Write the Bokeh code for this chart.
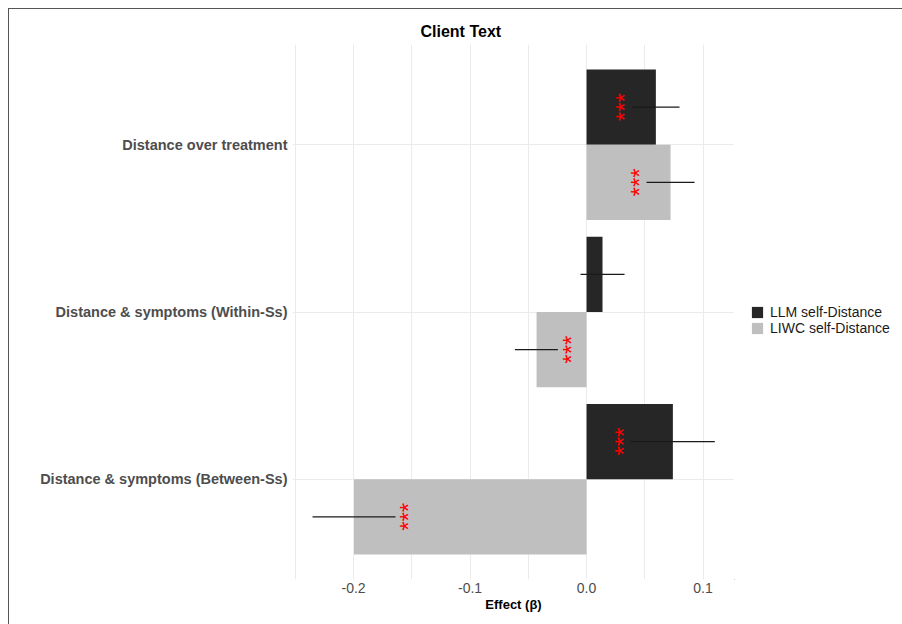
import math
from bokeh.plotting import figure
from bokeh.layouts import row
from bokeh.models import (ColumnDataSource, Range1d, FixedTicker, SingleIntervalTicker,
                          PrintfTickFormatter, Legend, LegendItem)
from bokeh.core.properties import value
from bokeh.embed import file_html
from bokeh.resources import INLINE

# ---------------- data ----------------
categories = ["Distance over treatment",
              "Distance & symptoms (Within-Ss)",
              "Distance & symptoms (Between-Ss)"]
series_names = ["LLM self-Distance", "LIWC self-Distance"]

llm_est = [0.0595, 0.0137, 0.0741]
llm_lo = [0.0392, -0.0052, 0.0378]
llm_hi = [0.0798, 0.0326, 0.1101]
llm_sig = ["***", "", "***"]

liwc_est = [0.0721, -0.0429, -0.1996]
liwc_lo = [0.0515, -0.0615, -0.2352]
liwc_hi = [0.0927, -0.0246, -0.1640]
liwc_sig = ["***", "***", "***"]

x_axis_label = "Effect (\u03b2)"
title_text = "Client Text"

# ---------------- styling ----------------
FONT = "Liberation Sans"
DARK = "#262626"
LIGHT = "#bfbfbf"
GRID = "#ebebeb"
BAR_H = 0.45
STAR_GAP = 0.009
H = 615

n = len(categories)
pos = [n - i for i in range(n)]


def make_source(est, lo, hi, sig, shift):
    ys = [p_ + shift for p_ in pos]
    star_x = []
    for e, l, h in zip(est, lo, hi):
        if e >= 0:
            star_x.append(l - STAR_GAP)
        else:
            star_x.append(h + STAR_GAP)
    return ColumnDataSource(dict(y=ys, est=est, lo=lo, hi=hi, sig=sig, sx=star_x))


src_llm = make_source(llm_est, llm_lo, llm_hi, llm_sig, BAR_H / 2)
src_liwc = make_source(liwc_est, liwc_lo, liwc_hi, liwc_sig, -BAR_H / 2)

p = figure(width=725, height=H, output_backend="svg", toolbar_location=None,
           x_range=Range1d(-0.2524, 0.127), y_range=Range1d(0.4, 3.6),
           min_border_left=283, min_border_right=0, min_border_top=35,
           min_border_bottom=H - 570)
p.outline_line_color = None
p.background_fill_color = "white"
p.border_fill_color = "white"

# title
p.title.text = title_text
p.title.text_font = FONT
p.title.text_font_size = "16px"
p.title.text_font_style = "bold"
p.title.text_color = "black"
p.title.align = "left"
p.title.offset = 128
p.title.standoff = 10

# bars
r_llm = p.hbar(y="y", left=0, right="est", height=BAR_H, source=src_llm,
               fill_color=DARK, line_color=None)
r_liwc = p.hbar(y="y", left=0, right="est", height=BAR_H, source=src_liwc,
                fill_color=LIGHT, line_color=None)

# error bars and significance stars
for src in (src_llm, src_liwc):
    p.segment(x0="lo", x1="hi", y0="y", y1="y", source=src,
              line_color="#1a1a1a", line_width=1.2)
    p.text(x="sx", y="y", text="sig", source=src, angle=math.pi / 2,
           text_color="#ff0000", text_font=value(FONT), text_font_size="24px",
           text_align="center", text_baseline="middle", x_offset=3)

# axes
p.xaxis.ticker = SingleIntervalTicker(interval=0.1, num_minor_ticks=2)
p.xaxis.formatter = PrintfTickFormatter(format="%.1f")
p.yaxis.ticker = FixedTicker(ticks=pos, minor_ticks=[])
p.yaxis.major_label_overrides = {pv: c for pv, c in zip(pos, categories)}

for ax in (p.xaxis, p.yaxis):
    ax.axis_line_color = None
    ax.major_tick_line_color = None
    ax.minor_tick_line_color = None
    ax.major_tick_out = 0
    ax.major_tick_in = 0
    ax.minor_tick_out = 0
    ax.minor_tick_in = 0
    ax.major_label_text_font = FONT
    ax.major_label_text_color = "#4d4d4d"

p.yaxis.major_label_text_font_size = "14.5px"
p.yaxis.major_label_text_font_style = "bold"
p.yaxis.major_label_standoff = 5
p.xaxis.major_label_text_font_size = "14px"
p.xaxis.major_label_standoff = 3
p.xaxis.axis_label = x_axis_label
p.xaxis.axis_label_text_font = FONT
p.xaxis.axis_label_text_font_size = "13px"
p.xaxis.axis_label_text_font_style = "bold"
p.xaxis.axis_label_text_color = "black"
p.xaxis.axis_label_standoff = 1

# grid
p.xgrid.grid_line_color = GRID
p.xgrid.minor_grid_line_color = GRID
p.ygrid.grid_line_color = GRID
p.ygrid.ticker = FixedTicker(ticks=pos, minor_ticks=[])

# legend in a small companion panel to the right (its ranges keep the key
# renderers' own bars out of view, so only the legend is drawn there)
pl = figure(width=168, height=H, output_backend="svg", toolbar_location=None,
            x_range=Range1d(10, 11), y_range=Range1d(10, 11),
            min_border=0)
pl.axis.visible = False
pl.grid.visible = False
pl.outline_line_color = None
k_llm = pl.hbar(y="y", left=0, right="est", height=BAR_H, source=src_llm,
                fill_color=DARK, line_color=None)
k_liwc = pl.hbar(y="y", left=0, right="est", height=BAR_H, source=src_liwc,
                 fill_color=LIGHT, line_color=None)
legend = Legend(items=[LegendItem(label=series_names[0], renderers=[k_llm]),
                       LegendItem(label=series_names[1], renderers=[k_liwc])],
                location=(16, 243), margin=0, padding=5, spacing=0,
                glyph_width=14, glyph_height=14, label_height=16,
                label_standoff=6, label_text_font=FONT,
                label_text_font_size="14px", label_text_color="#1a1a1a",
                border_line_color=None, background_fill_alpha=0)
pl.add_layout(legend, "center")

lay = row(p, pl)
lay.styles = {"margin": "8px 0 0 8px", "border-top": "1px solid #555555",
              "border-left": "1px solid #555555"}

open("out.html", "w").write(file_html(lay, INLINE))
